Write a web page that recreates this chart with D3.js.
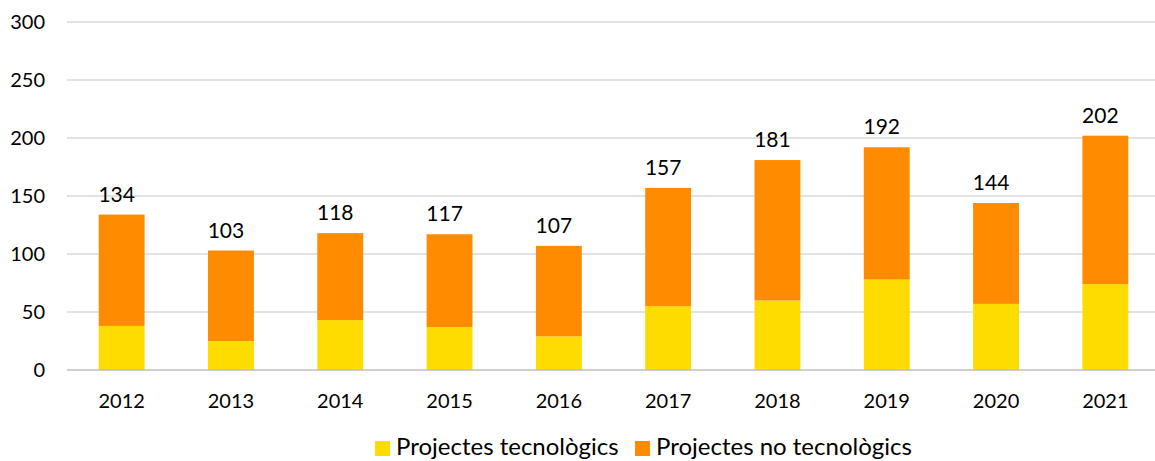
<!DOCTYPE html>
<html>
<head>
<meta charset="utf-8">
<script src="https://cdn.jsdelivr.net/npm/d3@7"></script>
<style>
  body { margin: 0; background: #fff; }
  svg text { font-family: Lato, "Open Sans", sans-serif; fill: #000; }
</style>
</head>
<body>
<svg width="1155" height="461"></svg>
<script>
const years = ["2012", "2013", "2014", "2015", "2016", "2017", "2018", "2019", "2020", "2021"];
const tecnologics = [38, 25, 43, 37, 29, 55, 60, 78, 57, 74];
const totals = [134, 103, 118, 117, 107, 157, 181, 192, 144, 202];
const noTecnologics = totals.map((t, i) => t - tecnologics[i]);
const yTicks = [0, 50, 100, 150, 200, 250, 300];
const seriesNames = ["Projectes tecnològics", "Projectes no tecnològics"];
const colors = ["#ffdc00", "#ff8c00"];

var svg = d3.select("svg");
var width = +svg.attr("width");

const rows = years.map((y, i) => ({ year: y, tec: tecnologics[i], noTec: noTecnologics[i], total: totals[i] }));
const stack = d3.stack().keys(["tec", "noTec"])(rows);

var x = d3.scaleBand()
    .domain(years)
    .range([67, 1160])
    .paddingInner(0.58)
    .paddingOuter(0.29);

var y = d3.scaleLinear()
    .domain([0, 300])
    .range([370, 22]);

// gridlines
svg.append("g")
    .selectAll("line")
    .data(yTicks.filter(d => d > 0))
    .enter().append("line")
    .attr("x1", 67)
    .attr("x2", width)
    .attr("y1", d => y(d))
    .attr("y2", d => y(d))
    .attr("stroke", "#d9d9d9")
    .attr("stroke-width", 1.3);

// y labels
svg.append("g")
    .selectAll("text")
    .data(yTicks)
    .enter().append("text")
    .attr("x", 45)
    .attr("y", d => y(d))
    .attr("dy", "0.36em")
    .attr("text-anchor", "end")
    .attr("font-size", 20)
    .text(d => d);

// bars
svg.append("g")
    .selectAll("g")
    .data(stack)
    .enter().append("g")
    .attr("fill", (d, i) => colors[i])
    .selectAll("rect")
    .data(d => d)
    .enter().append("rect")
    .attr("x", d => x(d.data.year))
    .attr("width", x.bandwidth())
    .attr("y", d => y(d[1]))
    .attr("height", d => y(d[0]) - y(d[1]));

// x axis line
svg.append("line")
    .attr("x1", 67)
    .attr("x2", width)
    .attr("y1", y(0))
    .attr("y2", y(0))
    .attr("stroke", "#bfbfbf")
    .attr("stroke-width", 1.5);

// x labels
svg.append("g")
    .selectAll("text")
    .data(years)
    .enter().append("text")
    .attr("x", d => x(d) + x.bandwidth() / 2)
    .attr("y", 408)
    .attr("text-anchor", "middle")
    .attr("font-size", 20)
    .text(d => d);

// total labels
svg.append("g")
    .selectAll("text")
    .data(rows)
    .enter().append("text")
    .attr("x", d => x(d.year) + x.bandwidth() / 2 - 5)
    .attr("y", d => y(d.total) - 13)
    .attr("text-anchor", "middle")
    .attr("font-size", 21)
    .text(d => d.total);

// legend
const legendX = [375, 635];
var legend = svg.append("g")
    .selectAll("g")
    .data(seriesNames)
    .enter().append("g")
    .attr("transform", (d, i) => `translate(${legendX[i]},0)`);

legend.append("rect")
    .attr("y", 441)
    .attr("width", 15)
    .attr("height", 15)
    .attr("fill", (d, i) => colors[i]);

legend.append("text")
    .attr("x", 21)
    .attr("y", 455)
    .attr("font-size", 24)
    .text(d => d);
</script>
</body>
</html>
